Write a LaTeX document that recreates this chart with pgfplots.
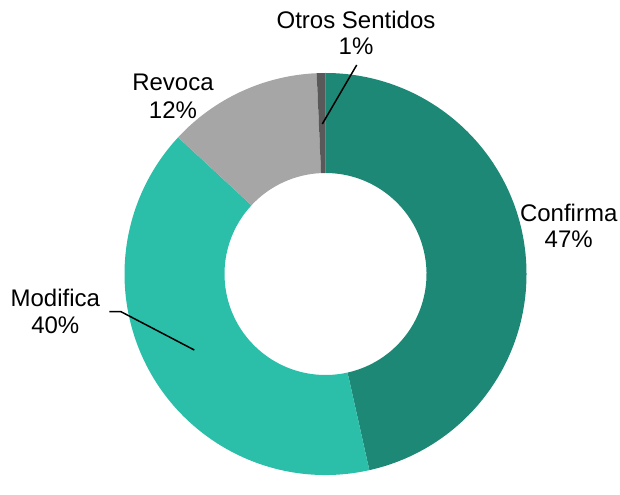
\documentclass[border=0pt]{standalone}
\usepackage{pgfplots}
\pgfplotsset{compat=1.18}
\usepackage{fontspec}
\setmainfont{Liberation Sans}
\definecolor{cConfirma}{RGB}{30,136,118}
\definecolor{cModifica}{RGB}{43,191,169}
\definecolor{cRevoca}{RGB}{166,166,166}
\definecolor{cOtros}{RGB}{89,89,89}
% shares (percent): Confirma 46.5, Modifica 40.4, Revoca 12.4, Otros Sentidos 0.7
\begin{document}
\begin{tikzpicture}
\begin{axis}[
  hide axis, scale only axis, clip=false,
  width=620bp, height=476bp,
  xmin=0, xmax=620, ymin=0, ymax=476,
]
\path (axis cs:0,0) rectangle (axis cs:620,476);
% Confirma 46.5%
\fill[cConfirma] (axis cs:325.5,202) ++(90:201bp)
  arc[start angle=90, end angle={90-46.5*3.6}, radius=201bp]
  -- ++({90-46.5*3.6}:-100bp)
  arc[start angle={90-46.5*3.6}, end angle=90, radius=101bp] -- cycle;
% Modifica 40.4%
\fill[cModifica] (axis cs:325.5,202) ++({90-46.5*3.6}:201bp)
  arc[start angle={90-46.5*3.6}, end angle={90-(46.5+40.4)*3.6}, radius=201bp]
  -- ++({90-(46.5+40.4)*3.6}:-100bp)
  arc[start angle={90-(46.5+40.4)*3.6}, end angle={90-46.5*3.6}, radius=101bp] -- cycle;
% Revoca 12.4%
\fill[cRevoca] (axis cs:325.5,202) ++({90-(46.5+40.4)*3.6}:201bp)
  arc[start angle={90-(46.5+40.4)*3.6}, end angle={90-(46.5+40.4+12.4)*3.6}, radius=201bp]
  -- ++({90-(46.5+40.4+12.4)*3.6}:-100bp)
  arc[start angle={90-(46.5+40.4+12.4)*3.6}, end angle={90-(46.5+40.4)*3.6}, radius=101bp] -- cycle;
% Otros Sentidos 0.7%
\fill[cOtros] (axis cs:325.5,202) ++({90-(46.5+40.4+12.4)*3.6}:201bp)
  arc[start angle={90-(46.5+40.4+12.4)*3.6}, end angle={90-(46.5+40.4+12.4+0.7)*3.6}, radius=201bp]
  -- ++({90-(46.5+40.4+12.4+0.7)*3.6}:-100bp)
  arc[start angle={90-(46.5+40.4+12.4+0.7)*3.6}, end angle={90-(46.5+40.4+12.4)*3.6}, radius=101bp] -- cycle;
% leader lines
\draw[line width=1.5bp] (axis cs:356.7,411) -- (axis cs:322.3,352);
\draw[line width=1.5bp] (axis cs:109.3,164.3) -- (axis cs:121,164.3) -- (axis cs:194.3,126);
% labels
\tikzset{lbl/.style={anchor=base, inner sep=0pt, font=\fontsize{24bp}{28bp}\selectfont}}
\node[lbl] at (axis cs:356,447.7) {Otros Sentidos};
\node[lbl] at (axis cs:356,421) {1\%};
\node[lbl] at (axis cs:568.7,254.3) {Confirma};
\node[lbl] at (axis cs:568.7,228.7) {47\%};
\node[lbl] at (axis cs:173,385.3) {Revoca};
\node[lbl] at (axis cs:173,357.7) {12\%};
\node[lbl] at (axis cs:55.3,169.3) {Modifica};
\node[lbl] at (axis cs:55.3,143) {40\%};
\end{axis}
\end{tikzpicture}
\end{document}
